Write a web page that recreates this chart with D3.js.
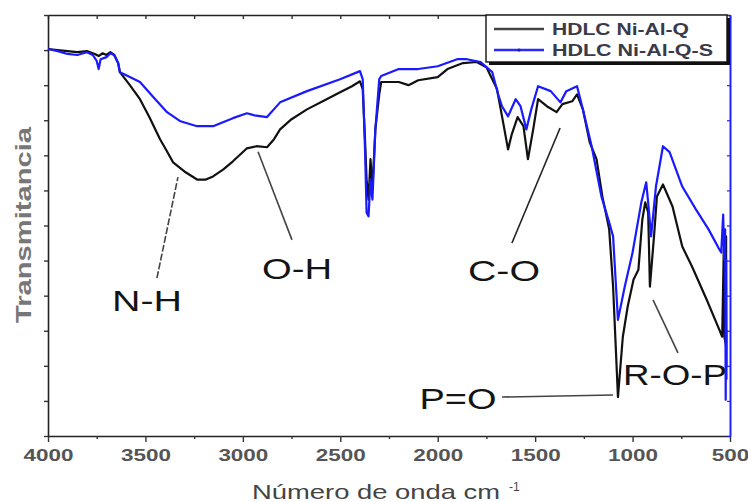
<!DOCTYPE html>
<html>
<head>
<meta charset="utf-8">
<script src="https://cdn.jsdelivr.net/npm/d3@7"></script>
<style>
  body { margin: 0; background: #fff; }
  svg { display: block; font-family: "Liberation Sans", Arial, sans-serif; }
</style>
</head>
<body>
<div id="chart"></div>
<script>
// spectre IR, transmitance en unités arbitraires (0..12 = nb de graduations)
const wnQ = [4000,3950,3900,3850,3800,3760,3740,3720,3700,3680,3660,3640,3631,3580,3528,3480,3425,3389,3358,3300,3235,3190,3153,3100,3051,2979,2930,2876,2840,2809,2750,2671,2580,2501,2440,2399,2385,2373,2365,2355,2345,2335,2320,2300,2290,2200,2150,2100,2000,1950,1870,1800,1750,1720,1696,1670,1639,1620,1590,1560,1537,1510,1485,1440,1390,1360,1310,1285,1255,1220,1185,1155,1120,1100,1085,1075,1050,1025,995,970,950,935,920,911,890,875,844,795,745,695,620,555,540,532,528,521,520,519,518];
const tQ = [11.03,11.0,10.97,10.94,10.97,10.89,10.83,10.91,10.86,10.94,10.86,10.63,10.37,10.0,9.6,9.09,8.46,8.11,7.8,7.54,7.31,7.31,7.4,7.6,7.83,8.2,8.26,8.23,8.46,8.74,9.03,9.31,9.57,9.8,9.97,10.11,9.89,8.46,7.31,6.74,7.89,7.03,8.74,9.74,10.09,10.09,10.0,10.14,10.23,10.46,10.63,10.66,10.51,10.17,9.89,9.11,8.17,8.6,9.09,8.83,7.89,8.74,9.6,9.4,9.23,9.46,9.54,9.74,9.31,8.37,7.89,6.83,5.89,4.26,2.37,1.11,2.83,3.69,4.46,4.74,6.17,6.66,6.37,4.26,5.69,6.83,7.17,6.54,5.4,4.83,3.89,3.03,2.83,5.31,2.8,2.6,5.69,1.97,3.03];

const wnQS = [4000,3950,3900,3850,3800,3770,3750,3740,3730,3700,3680,3660,3640,3631,3580,3528,3460,3389,3320,3235,3153,3051,2979,2940,2876,2809,2671,2501,2399,2385,2373,2365,2355,2345,2335,2320,2300,2290,2200,2100,2000,1900,1850,1780,1720,1690,1670,1639,1600,1575,1545,1520,1485,1420,1370,1340,1285,1255,1210,1160,1120,1100,1075,1040,1000,955,930,920,905,880,844,810,745,675,610,560,545,535,530,525,522,520,518];
const tQS = [11.03,10.97,10.89,10.86,10.94,10.86,10.69,10.46,10.74,10.8,10.91,10.86,10.63,10.37,10.23,10.09,9.66,9.23,8.97,8.83,8.83,9.06,9.2,9.14,9.09,9.51,9.83,10.17,10.4,10.17,8.17,6.37,6.26,7.31,6.74,8.74,10.17,10.26,10.46,10.46,10.54,10.74,10.74,10.66,10.37,9.74,9.4,9.11,9.6,9.4,8.74,9.31,9.97,9.83,9.51,9.83,9.97,9.31,8.26,6.83,6.09,5.69,3.31,4.26,5.23,6.66,7.23,6.66,5.69,7.11,8.26,8.09,7.11,6.46,5.89,5.37,5.23,6.31,5.03,5.89,1.03,5.03,1.6];

const seriesNames = ["HDLC Ni-Al-Q", "HDLC Ni-Al-Q-S"];
const xTickLabels = [4000, 3500, 3000, 2500, 2000, 1500, 1000, 500];

// annotations : texte + trait de rappel (wn, T)
const annoLabels = ["N-H", "O-H", "C-O", "P=O", "R-O-P"];
const annoText = [[3492, 3.56], [2722, 4.48], [1660, 4.42], [1896, 0.77], [782, 1.45]];
const annoLine = [[[3441, 4.5], [3333, 7.38]], [[2922, 8.1], [2748, 5.59]], [[1619, 5.5], [1372, 8.78]], [[1670, 1.11], [1100, 1.17]], [[895, 3.88], [767, 2.37]]];

const width = 748, height = 502;
const mLeft = 48, mRight = 730, mTop = 15, mBottom = 436;

const svg = d3.select("#chart").append("svg")
    .attr("width", width)
    .attr("height", height)
    .attr("viewBox", [0, 0, width, height]);

const x = d3.scaleLinear().domain([4000, 500]).range([mLeft, mRight]);
const y = d3.scaleLinear().domain([0, 12]).range([mBottom, mTop]);

// axes
const xTicks = d3.range(4000, 499, -250);
const xAxis = svg.append("g")
    .attr("transform", `translate(0,${mBottom})`)
    .call(d3.axisBottom(x).tickValues(xTicks).tickSize(6).tickSizeOuter(0)
        .tickFormat(d => xTickLabels.includes(d) ? d : ""));
xAxis.select(".domain").attr("stroke", "#222").attr("stroke-width", 1.6);
xAxis.selectAll(".tick line").attr("stroke", "#333").attr("stroke-width", 1.4)
    .attr("y2", d => d % 500 === 0 ? 6 : 3);
xAxis.selectAll(".tick text")
    .attr("y", 13)
    .attr("dy", "0.71em")
    .attr("fill", "#555")
    .attr("font-size", 17)
    .attr("font-weight", "bold")
    .attr("font-family", "Liberation Sans, Arial, sans-serif")
    .attr("textLength", d => String(d).length * 12.5)
    .attr("lengthAdjust", "spacingAndGlyphs");

const topAxis = svg.append("g")
    .attr("transform", `translate(0,${mTop})`)
    .call(d3.axisTop(x).tickValues(xTicks).tickSize(-4).tickSizeOuter(0).tickFormat(""));
topAxis.select(".domain").attr("stroke", "#222").attr("stroke-width", 1.6);
topAxis.selectAll(".tick line").attr("stroke", "#333").attr("stroke-width", 1.4);

const yAxis = svg.append("g")
    .attr("transform", `translate(${mLeft},0)`)
    .call(d3.axisLeft(y).ticks(12).tickSize(4).tickSizeOuter(0).tickFormat(""));
yAxis.select(".domain").attr("stroke", "#222").attr("stroke-width", 1.6);
yAxis.selectAll(".tick line").attr("stroke", "#333").attr("stroke-width", 1.4);

// spectres
const line = d3.line().x(d => x(d[0])).y(d => y(d[1]));
const dataQ = wnQ.map((w, i) => [w, tQ[i]]);
const dataQS = wnQS.map((w, i) => [w, tQS[i]]);

svg.append("path").datum(dataQ)
    .attr("fill", "none").attr("stroke", "#111").attr("stroke-width", 2.2)
    .attr("stroke-linejoin", "round").attr("d", line);
svg.append("path").datum(dataQS)
    .attr("fill", "none").attr("stroke", "#1a1aff").attr("stroke-width", 2.2)
    .attr("stroke-linejoin", "round").attr("d", line);

// axe droit (bleu)
const rightAxis = svg.append("g")
    .attr("transform", `translate(${mRight},0)`)
    .call(d3.axisRight(y).ticks(12).tickSize(-3).tickSizeOuter(0).tickFormat(""));
rightAxis.select(".domain").attr("stroke", "#2222ff").attr("stroke-width", 2);
rightAxis.selectAll(".tick line").attr("stroke", "#2222ff").attr("stroke-width", 1.2);

// annotations
annoLine.forEach((l, i) => {
    svg.append("line")
        .attr("x1", x(l[0][0])).attr("y1", y(l[0][1]))
        .attr("x2", x(l[1][0])).attr("y2", y(l[1][1]))
        .attr("stroke", i === 2 ? "#222" : "#444")
        .attr("stroke-width", 1.6)
        .attr("stroke-dasharray", i === 0 ? "7,2" : null);
});
const annoWidths = [70, 70, 72, 77, 104];
svg.append("g").selectAll("text")
    .data(annoLabels)
    .join("text")
    .attr("x", (d, i) => x(annoText[i][0]))
    .attr("y", (d, i) => y(annoText[i][1]))
    .attr("text-anchor", "middle")
    .attr("font-size", 30)
    .attr("fill", "#141414")
    .attr("textLength", (d, i) => annoWidths[i])
    .attr("lengthAdjust", "spacingAndGlyphs")
    .text(d => d);

// légende
const leg = svg.append("g");
leg.append("rect").attr("x", 489).attr("y", 18).attr("width", 241).attr("height", 47).attr("fill", "#111");
leg.append("rect").attr("x", 486).attr("y", 15).attr("width", 241).attr("height", 47)
    .attr("fill", "#fff").attr("stroke", "#111").attr("stroke-width", 1.4);
const legColors = ["#444", "#2a2aff"];
const legWidths = [137, 161];
seriesNames.forEach((name, i) => {
    const ly = 29 + i * 21;
    leg.append("line").attr("x1", 494).attr("x2", 544).attr("y1", ly).attr("y2", ly)
        .attr("stroke", legColors[i]).attr("stroke-width", 2.4);
    if (i === 1) leg.append("circle").attr("cx", 519).attr("cy", ly).attr("r", 1.6).attr("fill", "#1a1aaa");
    leg.append("text").attr("x", 552).attr("y", ly + 6)
        .attr("font-size", 16).attr("font-weight", "bold").attr("fill", "#3a3a4a")
        .attr("textLength", legWidths[i]).attr("lengthAdjust", "spacingAndGlyphs")
        .text(name);
});

// titres des axes
svg.append("text")
    .attr("transform", "translate(31,225) rotate(-90)")
    .attr("text-anchor", "middle")
    .attr("font-size", 22).attr("font-weight", "bold").attr("fill", "#777")
    .attr("textLength", 196).attr("lengthAdjust", "spacingAndGlyphs")
    .text("Transmitancia");

const xt = svg.append("text").attr("y", 499).attr("fill", "#444").attr("font-size", 21);
xt.append("tspan").attr("x", 252)
    .attr("textLength", 248).attr("lengthAdjust", "spacingAndGlyphs")
    .text("Número de onda cm");
xt.append("tspan").attr("x", 509).attr("dy", -8).attr("font-size", 12).text("-1");
</script>
</body>
</html>
